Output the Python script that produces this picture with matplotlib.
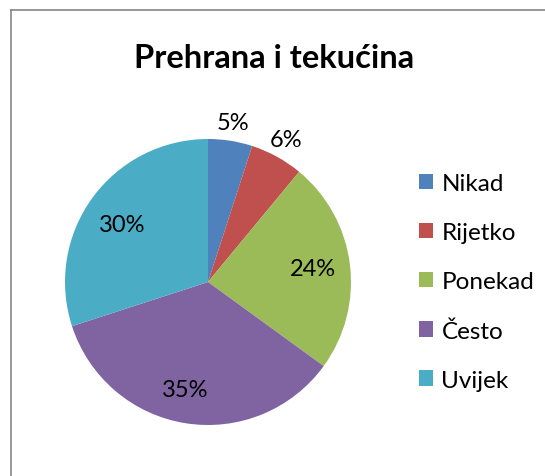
import numpy as np
import matplotlib.pyplot as plt
from matplotlib.lines import Line2D
from matplotlib.patches import Patch

# Data
categories = ["Nikad", "Rijetko", "Ponekad", "Često", "Uvijek"]
values = [5, 6, 24, 35, 30]
colors = ["#4F81BD", "#C0504D", "#9BBB59", "#8064A2", "#4BACC6"]

plt.rcParams['font.family'] = ['Lato', 'DejaVu Sans']

W, H = 545, 477
fig = plt.figure(figsize=(W / 100, H / 100), dpi=100)

# chart border (only top and left edges visible in the crop)
fig.add_artist(Line2D([11 / W, 11 / W], [0, 1 - 11 / H], color="#868686", lw=1.2))
fig.add_artist(Line2D([11 / W, 1], [1 - 11 / H, 1 - 11 / H], color="#868686", lw=1.2))

fig.text(274 / W, 1 - 58 / H, "Prehrana i tekućina", ha="center", va="center",
         fontsize=23.5, fontweight="bold")

# pie axes: centre (208, 283), radius 143 px
cx, cy, r = 208, 283, 143
ax = fig.add_axes([(cx - r) / W, 1 - (cy + r) / H, 2 * r / W, 2 * r / H])
wedges, _ = ax.pie(values, colors=colors, startangle=90, counterclock=False,
                   wedgeprops=dict(linewidth=0))
ax.set_xlim(-1, 1)
ax.set_ylim(-1, 1)
ax.set_aspect("equal")

# data labels: small slices outside, others inside (best fit)
dists = [1.13, 1.14, 0.74, 0.77, 0.72]
nudge = [0, 0, 0, -3, 2]  # degrees, like Excel's best-fit placement
for w, v, d, n in zip(wedges, values, dists, nudge):
    ang = np.deg2rad((w.theta1 + w.theta2) / 2 + n)
    ax.text(d * np.cos(ang), d * np.sin(ang), f"{v}%", ha="center", va="center",
            fontsize=17)

handles = [Patch(facecolor=c, edgecolor="none") for c in colors]
fig.legend(handles, categories, loc="center left", bbox_to_anchor=(397 / W, 1 - 283 / H),
           frameon=False, fontsize=17.5, handlelength=0.6, handleheight=0.6,
           handletextpad=0.33, labelspacing=1.15)

fig.savefig("out.png", dpi=100)
